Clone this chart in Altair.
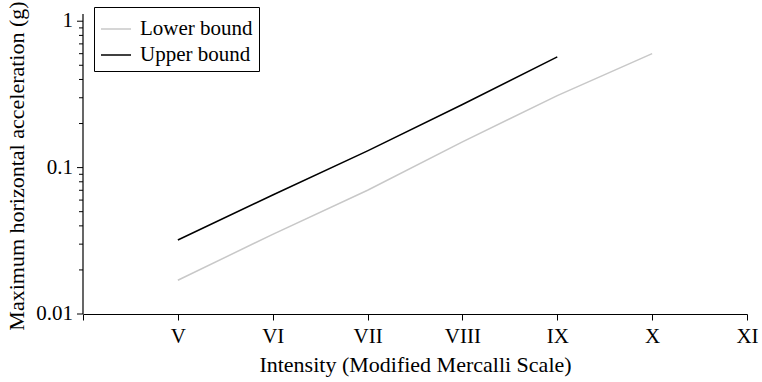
import altair as alt
import pandas as pd

# Data
intensity = ["V", "VI", "VII", "VIII", "IX", "X"]
lower_bound = [0.017, 0.035, 0.07, 0.15, 0.31, 0.6]
upper_bound = [0.032, 0.065, 0.13, 0.27, 0.57, None]
x_ticks = ["IV", "V", "VI", "VII", "VIII", "IX", "X", "XI"]
y_major = [0.01, 0.1, 1]
y_labels = ["0.01", "0.1", "1"]
y_minor = [0.02, 0.03, 0.04, 0.05, 0.06, 0.07, 0.08, 0.09,
           0.2, 0.3, 0.4, 0.5, 0.6, 0.7, 0.8, 0.9]
y_title = ["Maximum horizontal acceleration (g)"]
series = ["Lower bound", "Upper bound"]
colors = ["#c8c8c8", "#000000"]

rows = []
for i, lab in enumerate(intensity):
    rows.append({"Intensity": lab, "Bound": series[0], "g": lower_bound[i]})
    if upper_bound[i] is not None:
        rows.append({"Intensity": lab, "Bound": series[1], "g": upper_bound[i]})
df = pd.DataFrame(rows)
major_df = pd.DataFrame({"g": y_major, "label": y_labels})
minor_df = pd.DataFrame({"g": y_minor})
title_df = pd.DataFrame({"t": y_title})

FONT = "Liberation Serif"
yscale = alt.Scale(type="log", domain=[0.01, 1.12], nice=False)

lines = alt.Chart(df).mark_line(strokeWidth=1.5).encode(
    x=alt.X(
        "Intensity:O",
        scale=alt.Scale(type="point", domain=x_ticks, padding=0),
        sort=x_ticks,
        axis=alt.Axis(
            title="Intensity (Modified Mercalli Scale)",
            labelAngle=0,
            labelExpr="datum.value == 'IV' ? '' : datum.value",
            tickSize=6, labelPadding=5, titlePadding=8, grid=False,
        ),
    ),
    y=alt.Y("g:Q", scale=yscale, axis=None),
    color=alt.Color(
        "Bound:N",
        scale=alt.Scale(domain=series, range=colors),
        legend=alt.Legend(title=None, orient="none", legendX=11, legendY=-7),
    ),
)

y_domain = alt.Chart(title_df).mark_rule(color="black", strokeWidth=1.2).encode(
    x=alt.value(0), y=alt.value(0), y2=alt.value(300),
)
major_ticks = alt.Chart(major_df).mark_rule(color="black", strokeWidth=1).encode(
    y=alt.Y("g:Q", scale=yscale, axis=None),
    x=alt.value(-6), x2=alt.value(0),
)
minor_ticks = alt.Chart(minor_df).mark_rule(color="black", strokeWidth=1).encode(
    y=alt.Y("g:Q", scale=yscale, axis=None),
    x=alt.value(-4), x2=alt.value(0),
)
major_labels = alt.Chart(major_df).mark_text(
    align="right", baseline="middle", font=FONT, fontSize=21, color="black",
).encode(
    y=alt.Y("g:Q", scale=yscale, axis=None),
    x=alt.value(-10),
    text="label:N",
)
y_title_mark = alt.Chart(title_df).mark_text(
    angle=270, align="center", baseline="middle", font=FONT, fontSize=22,
    color="black",
).encode(
    x=alt.value(-66), y=alt.value(152), text="t:N",
)

chart = (
    alt.layer(lines, y_domain, major_ticks, minor_ticks, major_labels, y_title_mark)
    .properties(
        width=664, height=300,
        autosize=alt.AutoSizeParams(type="none"),
        padding={"left": 83, "top": 14, "right": 15, "bottom": 68},
    )
    .configure_view(stroke=None)
    .configure_axis(
        labelFont=FONT, titleFont=FONT, labelFontSize=21, titleFontSize=22,
        titleFontWeight="normal", labelColor="black", titleColor="black",
        domainColor="black", tickColor="black", domainWidth=1.2, tickWidth=1,
    )
    .configure_legend(
        labelFont=FONT, labelFontSize=21, labelColor="black",
        symbolType="stroke", symbolSize=900, symbolStrokeWidth=1.5,
        strokeColor="black", padding=6, rowPadding=0, labelOffset=8,
        cornerRadius=0,
    )
)

chart.save("out.html", embed_options={"renderer": "svg", "actions": False})
